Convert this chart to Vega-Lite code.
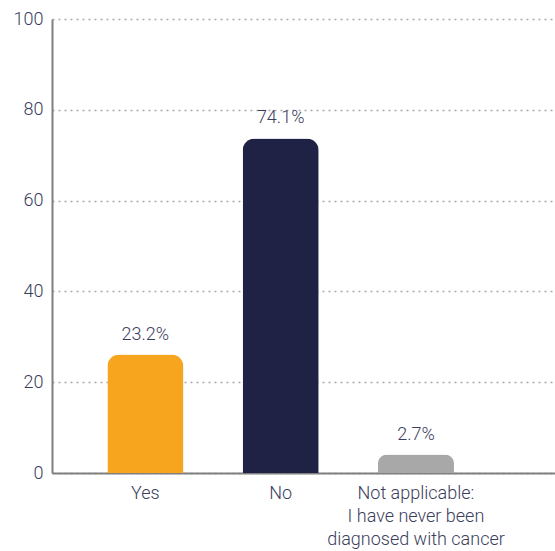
{
  "$schema": "https://vega.github.io/schema/vega-lite/v6.json",
  "autosize": "none",
  "width": 503,
  "height": 454,
  "padding": {"left": 52, "top": 19, "right": 0, "bottom": 78},
  "background": "white",
  "config": {"view": {"stroke": null}, "font": "Roboto"},
  "data": {"values": [
    {"answer": "Yes", "height": 26.1, "label": "23.2%"},
    {"answer": "No", "height": 73.7, "label": "74.1%"},
    {"answer": "Not applicable:|I have never been|diagnosed with cancer", "height": 4.05, "label": "2.7%"}
  ]},
  "encoding": {
    "x": {
      "field": "answer", "type": "nominal", "sort": null,
      "scale": {"paddingInner": 0.438, "paddingOuter": 0.578, "align": 0.354},
      "axis": {
        "title": null, "labelAngle": 0, "ticks": false,
        "domainColor": "#808080", "domainWidth": 2,
        "labelExpr": "split(datum.label, '|')",
        "labelFontSize": 18, "labelColor": "#3b3d5c", "labelPadding": 11,
        "labelLineHeight": 23, "labelFont": "Roboto", "labelFontWeight": 300
      }
    },
    "y": {
      "field": "height", "type": "quantitative",
      "scale": {"domain": [0, 100], "nice": false},
      "axis": {
        "title": null, "values": [0, 20, 40, 60, 80, 100], "ticks": false,
        "domainColor": "#808080", "domainWidth": 2,
        "gridColor": "#aaaaaa", "gridDash": [2, 4], "gridWidth": 1.5,
        "labelFontSize": 18, "labelColor": "#3b3d5c", "labelPadding": 9,
        "labelFont": "Roboto", "labelFontWeight": 300
      }
    }
  },
  "layer": [
    {
      "mark": {"type": "bar", "cornerRadiusTopLeft": 12, "cornerRadiusTopRight": 12},
      "encoding": {
        "color": {
          "field": "answer", "type": "nominal", "legend": null,
          "scale": {
            "domain": ["Yes", "No", "Not applicable:|I have never been|diagnosed with cancer"],
            "range": ["#f7a51e", "#1f2244", "#a8a8a8"]
          }
        }
      }
    },
    {
      "mark": {"type": "text", "baseline": "bottom", "dy": -11, "fontSize": 18, "fontWeight": 300, "color": "#3b3d5c", "font": "Roboto"},
      "encoding": {"text": {"field": "label"}}
    }
  ]
}
